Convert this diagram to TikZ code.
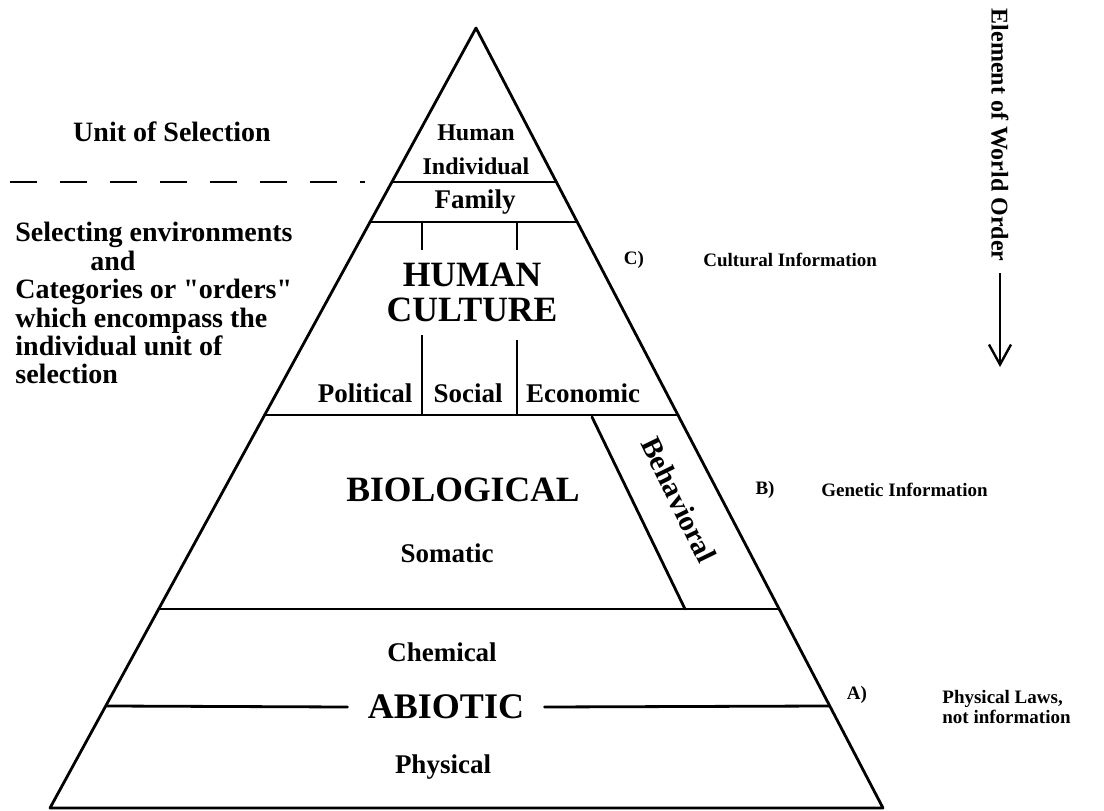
\documentclass[tikz,border=0pt]{standalone}
\usepackage{fontspec}
\setmainfont{Liberation Serif}
\usepackage{tikz}
\usetikzlibrary{calc,arrows.meta}
\tikzstyle{edge} =[
    line width=1.4pt,
    line cap=round,
    line join=round
    ]
\tikzstyle{biglabel} =[
    font=\fontsize{17.8pt}{17.5pt}\selectfont\bfseries,
    align=center,
    inner sep=1pt
    ]
\tikzstyle{boldlabel} =[
    font=\fontsize{13.5pt}{14pt}\selectfont\bfseries,
    align=center,
    inner sep=1pt
    ]
\tikzstyle{sidelabel} =[
    font=\fontsize{9.5pt}{10pt}\selectfont\bfseries,
    align=left,
    inner sep=0pt
    ]

\begin{document}
\begin{tikzpicture}[x=0.5pt,y=-0.5pt]
\useasboundingbox (0,0) rectangle (1104,810);
% outline of the pyramid
\coordinate (apex) at (476,28);
\coordinate (bl) at (50,808);
\coordinate (br) at (883,808);
\draw[edge] (bl) -- (apex) -- (br) -- cycle;

% levels
\coordinate (ind l) at ($(apex)!0.1974!(bl)$);
\coordinate (ind r) at ($(apex)!0.1974!(br)$);
\coordinate (fam l) at ($(apex)!0.2487!(bl)$);
\coordinate (fam r) at ($(apex)!0.2487!(br)$);
\coordinate (cul l) at ($(apex)!0.4962!(bl)$);
\coordinate (cul r) at ($(apex)!0.4962!(br)$);
\coordinate (bio l) at ($(apex)!0.7449!(bl)$);
\coordinate (bio r) at ($(apex)!0.7449!(br)$);
\coordinate (abio l) at ($(apex)!0.8692!(bl)$);
\coordinate (abio r) at ($(apex)!0.8692!(br)$);
\draw[edge] (ind l) -- (ind r);
\draw[edge] (fam l) -- (fam r);
\draw[edge] (cul l) -- (cul r);
\draw[edge] (bio l) -- (bio r);

% behavioral strip
\coordinate (beh top) at (592,417);
\coordinate (beh bot) at (685,609);
\draw[edge] (beh top) -- (beh bot);

% human culture dividers
\draw[line width=1.1pt] (422,223) -- (422,250);
\draw[line width=1.1pt] (517,223) -- (517,250);
\draw[line width=1.1pt] (422,335) -- (422,414);
\draw[line width=1.1pt] (517,340) -- (517,414);

\node[boldlabel, font=\fontsize{12pt}{17pt}\selectfont\bfseries] (individual) at (476,150) {Human\\Individual};
\node[boldlabel] (family) at (475,202) {Family};
\node[biglabel] (culture) at (472,292) {HUMAN\\CULTURE};
\node[boldlabel] (political) at (365,393) {Political};
\node[boldlabel] (social) at (468,393) {Social};
\node[boldlabel] (economic) at (583,393) {Economic};
\node[biglabel] (biological) at (463,490) {BIOLOGICAL};
\node[boldlabel] (somatic) at (447,553) {Somatic};
\node[boldlabel, font=\fontsize{14.5pt}{14pt}\selectfont\bfseries, rotate=-64] (behavioral) at (679,500) {Behavioral};
\node[boldlabel] (chemical) at (442,652) {Chemical};
\node[biglabel, font=\fontsize{18pt}{18pt}\selectfont\bfseries, inner xsep=10pt] (abiotic) at (446,707) {ABIOTIC};
\node[boldlabel] (physical) at (443,767) {Physical};
\draw[edge] (abio l) -- (abiotic.west);
\draw[edge] (abiotic.east) -- (abio r);

% left side
\node[boldlabel, font=\fontsize{14pt}{14pt}\selectfont\bfseries] (unit) at (172,132) {Unit of Selection};
\coordinate (dash start) at (10,182);
\coordinate (dash end) at (365,182);
\draw[line width=1.3pt, dash pattern=on 13.5pt off 11.5pt] (dash start) -- (dash end);
\node[boldlabel, font=\fontsize{14pt}{14.2pt}\selectfont\bfseries, align=left, anchor=north west] (selecting) at (13,220) {%
    Selecting environments\\
    \hspace*{37.5pt}and\\
    Categories or \textquotedbl orders\textquotedbl\\
    which encompass the\\
    individual unit of\\
    selection};

% right side
\node[sidelabel] (c label) at (634,260) {C)};
\node[sidelabel, anchor=west] (cultural) at (703,260) {Cultural Information};
\node[sidelabel] (b label) at (765,490) {B)};
\node[sidelabel, anchor=west] (genetic) at (821,490) {Genetic Information};
\node[sidelabel] (a label) at (857,695) {A)};
\node[sidelabel, anchor=west] (laws) at (942,707) {Physical Laws,\\not information};

\node[boldlabel, font=\fontsize{12pt}{12pt}\selectfont\bfseries, rotate=-90, inner sep=0pt, outer sep=6pt] (order) at (1000,135) {Element of World Order};
\coordinate (order end) at (1000,367);
\draw[line width=1.2pt, -{Straight Barb[length=10pt,width=11pt]}] (order.east) -- (order end);
\end{tikzpicture}
\end{document}
